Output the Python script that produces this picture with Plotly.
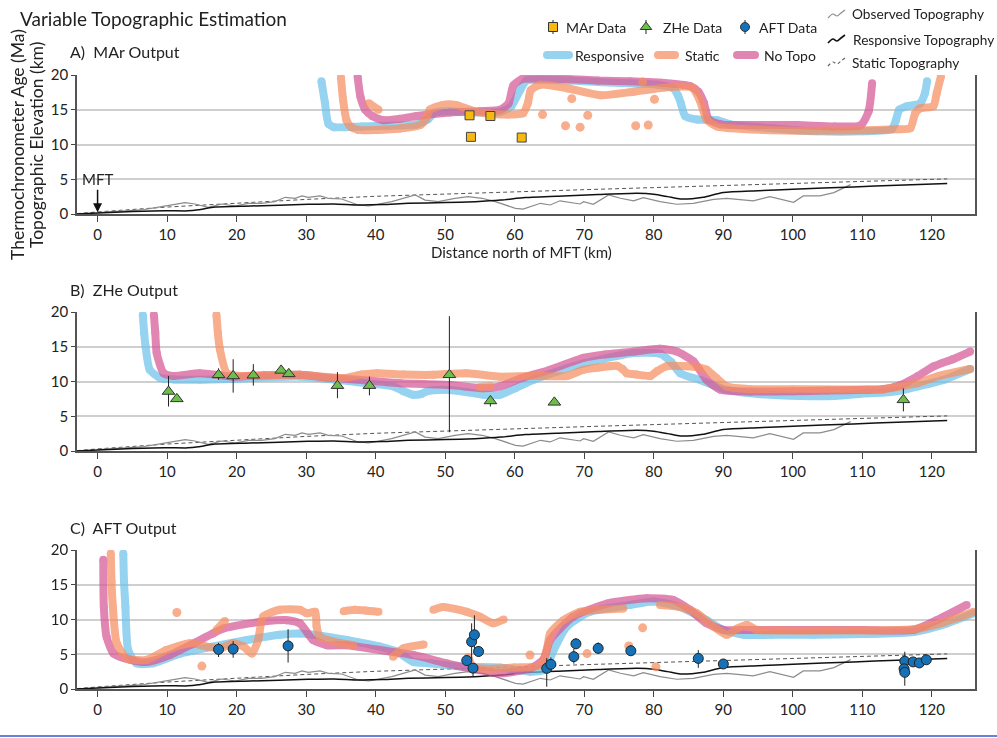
import plotly.graph_objects as go

W, H = 997, 738
FONT = "Lato"

# ---------------- topography (shared by all panels) ----------------
obs_topo_x = [0, 3, 6.3, 9.2, 11.1, 12.6, 14, 15.9, 17.9, 19.8, 21.7, 23.6, 25.5, 27, 28.4, 29.4, 30.3, 32, 33.2,
              35.1, 37.5, 39, 42.3, 45.7, 47.1, 49, 51.4, 53.3, 55.3, 57.2, 60.1, 61.2, 63.7, 65.1, 66.5, 68, 69.4,
              69.9, 71.3, 73.5, 75.2, 77.1, 78.5, 80.9, 83.3, 85.7, 88.6, 90.5, 94.3, 96.7, 100.1, 101.5, 103.9,
              105.9, 107.3, 108.3]
obs_topo_y = [0.2, 0.35, 0.58, 1.06, 1.4, 1.63, 1.44, 0.96, 1.44, 1.15, 1.54, 1.54, 1.78, 2.4, 2.26, 2.6, 2.4, 2.6,
              2.26, 2.16, 1.3, 1.15, 1.78, 2.74, 2.0, 1.78, 2.26, 2.5, 2.26, 1.78, 0.82, 0.7, 1.54, 1.3, 1.9, 1.68,
              1.44, 1.78, 1.4, 2.74, 2.26, 1.9, 2.36, 1.78, 1.4, 1.54, 2.1, 2.26, 1.9, 2.5, 1.68, 2.6, 2.6, 3.08,
              3.7, 4.23]
resp_topo_x = [-3, 0, 5, 9.7, 13, 14.5, 16.9, 22, 30.3, 34, 37.5, 41, 44.7, 50, 54.3, 58, 61.5, 67, 72, 77.6, 80,
               82, 83.8, 85.5, 87.1, 90, 95, 100, 108.7, 115, 122.2]
resp_topo_y = [0.0, 0.15, 0.35, 0.48, 0.45, 0.6, 1.0, 1.15, 1.39, 1.45, 1.3, 1.35, 1.54, 1.65, 1.78, 2.0, 2.36, 2.6,
               2.8, 2.98, 2.85, 2.5, 2.16, 2.2, 2.4, 3.1, 3.35, 3.55, 3.9, 4.15, 4.4]
static_topo_x = [-3, 0, 10, 20, 30, 40, 50, 60, 70, 80, 90, 100, 110, 122.2]
static_topo_y = [0.05, 0.3, 1.0, 1.6, 2.1, 2.55, 2.9, 3.2, 3.5, 3.8, 4.1, 4.4, 4.7, 5.05]

# ---------------- Panel A: MAr ----------------
A_resp_x = [32.2, 32.7, 33.2, 34.0, 38, 42, 45.9, 47.5, 48.5, 50.5, 54, 57.9, 59.5, 60.8, 61.7, 63.5, 68, 72, 76.6,
            80.5, 82.8, 83.5, 83.9, 84.5, 86.2, 89.1, 91.0, 95, 100, 103.5, 110, 114.2, 114.8, 115.3, 116.4, 118.3,
            119.0, 119.3]
A_resp_y = [19.1, 16.0, 13.0, 12.5, 12.6, 12.7, 12.9, 13.6, 14.6, 14.8, 14.6, 14.7, 15.5, 17.9, 19.2, 19.3, 19.2,
            19.0, 18.8, 18.6, 18.1, 17.0, 15.9, 14.1, 13.6, 13.5, 12.9, 12.5, 12.1, 11.9, 11.9, 12.2, 13.4, 15.0,
            15.5, 15.9, 17.4, 19.1]
A_notopo_x = [37.4, 37.8, 38.5, 39.5, 41.1, 43.5, 45.9, 50.7, 55, 57.9, 59.1, 59.8, 61.0, 63, 68, 72, 76.6, 81,
              85.2, 86.4, 87.2, 87.9, 89.6, 95, 100.6, 106, 109.8, 110.9, 111.4]
A_notopo_y = [19.8, 16.9, 15.0, 14.1, 13.5, 13.7, 14.1, 14.6, 14.8, 15.0, 15.9, 18.5, 19.4, 19.5, 19.4, 19.2, 19.1,
              18.9, 18.4, 17.6, 16.0, 13.6, 12.9, 12.8, 12.8, 12.6, 12.8, 14.8, 18.8]
A_static_x = [35.0, 35.3, 35.8, 36.5, 37.5, 40, 43.5, 46.4, 47.3, 47.8, 49.7, 51.5, 54.5, 58.9, 61.2, 61.9, 62.3,
              63.7, 67.5, 72.3, 77.1, 82.8, 85.5, 86.6, 87.6, 89.1, 95.8, 105, 115, 116.9, 117.6, 118.3, 120.2,
              120.7, 121.3, None, 39.0, 40.4]
A_static_y = [19.7, 16.5, 13.5, 12.5, 12.1, 12.1, 12.3, 12.8, 13.8, 15.0, 15.7, 15.7, 14.7, 14.3, 14.5, 16.0, 17.8,
              18.6, 18.1, 17.1, 17.6, 18.3, 18.2, 16.4, 13.6, 12.6, 12.1, 12.0, 12.2, 12.35, 14.5, 15.2, 15.5, 17.4,
              19.8, None, 15.95, 15.0]
A_static_pts_x = [64.0, 68.2, 67.3, 69.4, 70.5, 77.4, 79.2, 80.1, 78.4]
A_static_pts_y = [14.3, 16.6, 12.7, 12.5, 14.2, 12.7, 12.8, 16.5, 19.0]
mar_x = [53.5, 56.5, 53.7, 61.0]
mar_y = [14.2, 14.1, 11.1, 11.0]
mar_err = [0.3, 0.3, 0.3, 0.3]

# ---------------- Panel B: ZHe ----------------
B_resp_x = [6.5, 6.7, 6.9, 7.5, 9.0, 11, 14.7, 20, 25, 29.1, 34, 38.7, 42.5, 44, 45.4, 46.5, 47.3, 49.7, 53, 55.5,
            57.9, 60, 62.7, 66, 69.9, 73, 77.1, 80.9, 82.5, 83.8, 86.7, 90.5, 95, 101.1, 106, 110.7, 113, 115.5,
            117.9, 121.7, 125.5]
B_resp_y = [19.6, 17.0, 15.05, 11.7, 10.5, 10.3, 10.24, 10.4, 10.6, 10.7, 10.3, 9.76, 9.3, 8.6, 8.1, 8.2, 8.56,
            8.8, 8.5, 8.1, 8.1, 9.0, 10.24, 11.4, 12.6, 13.3, 14.1, 14.0, 12.8, 11.2, 10.2, 8.8, 8.2, 7.9, 7.9,
            8.3, 8.4, 8.7, 9.28, 10.24, 11.8]
B_notopo_x = [8.1, 8.3, 8.5, 9.5, 10.9, 14.7, 19.5, 24, 29.1, 33.9, 38, 43.5, 50.7, 55.5, 57.9, 61, 65.1, 69.9, 73,
              77.1, 80.9, 83.3, 85.7, 87.6, 89.6, 93.9, 100, 105, 110.7, 113, 115.5, 118, 120.3, 123, 125.5]
B_notopo_y = [19.6, 17, 14.1, 11.2, 10.8, 11.2, 10.7, 10.9, 10.96, 10.5, 10.2, 9.76, 9.5, 9.04, 9.3, 10.5, 11.7,
              13.4, 13.9, 14.3, 14.7, 14.3, 12.9, 10.24, 8.8, 8.56, 8.6, 8.7, 8.8, 8.9, 9.5, 10.8, 12.2, 13.2, 14.3]
B_static_x = [17.1, 17.3, 17.6, 18.6, 20.5, 25, 29.1, 35.4, 38, 40.2, 44, 48.3, 53.1, 57.9, 62, 67.5, 69.9, 72,
              74.7, 75.5, 76.1, 77.5, 79.5, 80.5, 81.9, 84.8, 86.5, 87.6, 89, 90.5, 93.9, 100, 113, 115, 117.9, 121,
              125.5, None, 55.0, 56.5]
B_static_y = [19.6, 17.0, 14.6, 11.2, 10.8, 10.9, 10.96, 10.5, 11.0, 11.2, 11.0, 10.96, 11.2, 10.7, 10.8, 10.8,
              11.7, 12.0, 12.26, 11.8, 11.2, 11.0, 10.8, 11.5, 12.2, 12.2, 12.0, 11.7, 10.5, 9.28, 8.9, 8.9, 8.9,
              9.2, 9.76, 10.8, 11.8, None, 9.2, 9.3]
zhe_x = [10.2, 11.4, 17.4, 19.5, 22.4, 26.4, 27.5, 34.5, 39.1, 50.6, 56.5, 65.7, 115.9]
zhe_y = [8.56, 7.5, 10.96, 10.8, 10.9, 11.6, 11.1, 9.4, 9.4, 10.96, 7.2, 7.0, 7.36]
zhe_err_plus = [2.24, 0, 0.94, 2.4, 1.6, 0, 0, 1.95, 1.3, 8.44, 0.6, 0, 1.64]
zhe_err_minus = [2.16, 0, 0.72, 2.4, 1.5, 0, 0, 1.8, 1.4, 8.26, 0.8, 0, 1.66]

# ---------------- Panel C: AFT ----------------
C_resp_x = [3.7, 3.8, 4.0, 4.4, 5.6, 8.0, 11.9, 16.6, 21.5, 26.2, 29.1, 31, 35.8, 40.6, 43, 45.4, 47.8, 52.6, 57.9,
            62.2, 64.0, 64.6, 65.6, 67.5, 70.8, 76.6, 80, 83.8, 87.6, 90, 92.9, 97, 103, 110, 117.4, 122.2, 126]
C_resp_y = [19.5, 15.5, 11.8, 5.6, 3.7, 3.7, 5.1, 6.1, 7.05, 7.8, 8.0, 7.8, 7.05, 6.1, 5.4, 3.9, 3.7, 3.2, 3.1, 2.5,
            2.7, 3.2, 5.6, 9.0, 11.1, 12.1, 12.6, 11.8, 9.9, 8.5, 7.8, 7.8, 7.8, 7.9, 8.2, 9.45, 10.9]
C_notopo_x = [0.82, 0.9, 1.3, 2.3, 4.7, 7.1, 10.4, 13.5, 16.6, 18.1, 21, 23.8, 27.2, 29.1, 31, 33, 35.8, 40.6, 45.4,
              50.2, 53.6, 57.9, 62.2, 64.1, 65.1, 68.4, 73.3, 79, 82.8, 85.2, 87.6, 90, 93.4, 100, 110, 117.4, 120.7,
              125]
C_notopo_y = [18.6, 11.8, 7.5, 5.1, 4.2, 3.9, 4.9, 6.4, 8.0, 8.7, 9.3, 9.7, 9.9, 9.45, 7.05, 6.3, 6.3, 5.6, 4.9,
              3.7, 2.97, 2.26, 2.97, 4.2, 7.05, 10.4, 12.3, 13.05, 12.8, 11.4, 9.45, 8.5, 8.5, 8.5, 8.5, 8.5, 9.9,
              12.1]
C_static_x = [1.9, 2.0, 2.2, 2.75, 4.2, 7.1, 9.9, 13.3, 15.7, 17.6, 19.5, 21, 22.2, 23.1, 23.8, 26.2, 29.1, 30.1,
              31.3, 31.5, 32, 34.9, 36.8,
              None, 17.1, 18.3,
              None, 35.4, 37, 38.5, 40.4,
              None, 42.5, 44, 46.9,
              None, 48.3, 49.7, 53.1, 55, 56.9, 58.4,
              None, 53.3, 54, 56, 60, 63.7, 64.6, 65.1, 67, 69.4, 72, 75.6,
              None, 80.9, 83.8, 86.2, 88.6, 90.5, 92, 93.4, 94.8, 98, 105, 117.4, 121.2, 126]
C_static_y = [19.5, 15.5, 11.8, 6.6, 4.4, 4.2, 5.6, 6.6, 6.1, 5.85, 6.6, 6.1, 5.1, 7.05, 10.4, 11.4, 11.4, 10.9,
              11.1, 9.0, 7.5, 6.6, 6.3,
              None, 8.5, 9.8,
              None, 11.2, 11.4, 11.3, 11.1,
              None, 4.65, 5.85, 6.4,
              None, 11.4, 11.8, 11.1, 10.4, 9.45, 10.0,
              None, 4.6, 3.2, 2.9, 3.1, 3.4, 5.6, 8.0, 9.9, 11.1, 11.4, 11.6,
              None, 12.1, 11.8, 10.9, 9.0, 7.8, 8.7, 9.2, 8.5, 8.4, 8.4, 8.6, 9.45, 11.1]
C_static_pts_x = [11.4, 15.0, 62.2, 70.4, 76.4, 78.4, 80.3]
C_static_pts_y = [11.0, 3.3, 4.9, 5.1, 6.2, 8.8, 3.2]
aft_x = [17.4, 19.5, 27.4, 53.1, 53.8, 54.2, 54.0, 54.8, 64.6, 65.2, 68.5, 68.8, 72.0, 76.7, 86.4, 90.0, 116.1,
         116.0, 116.1, 117.3, 118.2, 119.2]
aft_y = [5.7, 5.75, 6.2, 4.1, 6.8, 7.8, 3.0, 5.4, 2.97, 3.55, 4.65, 6.5, 5.85, 5.5, 4.4, 3.6, 4.0, 2.9, 2.4, 3.9,
         3.75, 4.2]
aft_err_plus = [0.95, 1.15, 2.4, 0.7, 2.65, 2.8, 0.3, 0.8, 1.45, 1.0, 1.1, 0.8, 0.85, 0.8, 1.2, 0.3, 1.37, 0.3,
                0.3, 0.3, 0.3, 0.6]
aft_err_minus = [1.1, 1.25, 2.4, 0.7, 2.7, 2.8, 1.2, 0.75, 2.64, 1.0, 1.0, 0.7, 0.8, 0.6, 1.35, 0.3, 1.2, 0.3,
                 1.93, 0.3, 0.3, 0.5]

# ---------------- styles ----------------
C_BLUE = "rgb(110,195,236)"
C_ORANGE = "rgb(246,142,96)"
C_PINK = "rgb(214,88,150)"
LW = 8
OP = 0.72

PLOT_X = (77, 975)
PANELS_PX = [(75, 214), (312, 451), (550, 689)]

fig = go.Figure()


def px2x(p):
    return p / W


def px2y(p):
    return 1 - p / H


def add_topo(s):
    xa, ya = "x" + s, "y" + s
    fig.add_trace(go.Scatter(x=static_topo_x, y=static_topo_y, mode="lines", xaxis=xa, yaxis=ya,
                             line=dict(color="#555", width=1, dash="4px,3px"), hoverinfo="skip"))
    fig.add_trace(go.Scatter(x=obs_topo_x, y=obs_topo_y, mode="lines", xaxis=xa, yaxis=ya,
                             line=dict(color="#8c8c8c", width=1.2), hoverinfo="skip"))
    fig.add_trace(go.Scatter(x=resp_topo_x, y=resp_topo_y, mode="lines", xaxis=xa, yaxis=ya,
                             line=dict(color="#111", width=1.5, shape="spline", smoothing=0.6), hoverinfo="skip"))


def add_model(s, x, y, color):
    fig.add_trace(go.Scatter(x=x, y=y, mode="lines+markers", xaxis="x" + s, yaxis="y" + s, opacity=OP,
                             connectgaps=False,
                             line=dict(color=color, width=LW, shape="spline", smoothing=0.6),
                             marker=dict(color=color, size=LW, line=dict(width=0)), hoverinfo="skip"))


def add_pts(s, x, y, color):
    fig.add_trace(go.Scatter(x=x, y=y, mode="markers", xaxis="x" + s, yaxis="y" + s, opacity=OP,
                             marker=dict(color=color, size=9, line=dict(width=0)), hoverinfo="skip"))


for s in ["", "2", "3"]:
    add_topo(s)

add_model("", A_resp_x, A_resp_y, C_BLUE)
add_model("", A_notopo_x, A_notopo_y, C_PINK)
add_model("", A_static_x, A_static_y, C_ORANGE)
add_pts("", A_static_pts_x, A_static_pts_y, C_ORANGE)
fig.add_trace(go.Scatter(x=mar_x, y=mar_y, mode="markers", xaxis="x", yaxis="y",
                         error_y=dict(type="data", array=mar_err, color="#222", thickness=1, width=0),
                         marker=dict(symbol="square", color="#F6B90F", size=9, line=dict(color="#444", width=1))))

add_model("2", B_resp_x, B_resp_y, C_BLUE)
add_model("2", B_notopo_x, B_notopo_y, C_PINK)
add_model("2", B_static_x, B_static_y, C_ORANGE)
fig.add_trace(go.Scatter(x=zhe_x, y=zhe_y, mode="markers", xaxis="x2", yaxis="y2",
                         error_y=dict(type="data", symmetric=False, array=zhe_err_plus, arrayminus=zhe_err_minus,
                                      color="#222", thickness=1, width=0),
                         marker=dict(symbol="triangle-up", color="#6CBF4B", size=11,
                                     line=dict(color="#333", width=1))))

add_model("3", C_resp_x, C_resp_y, C_BLUE)
add_model("3", C_notopo_x, C_notopo_y, C_PINK)
add_model("3", C_static_x, C_static_y, C_ORANGE)
add_pts("3", C_static_pts_x, C_static_pts_y, C_ORANGE)
fig.add_trace(go.Scatter(x=aft_x, y=aft_y, mode="markers", xaxis="x3", yaxis="y3",
                         error_y=dict(type="data", symmetric=False, array=aft_err_plus, arrayminus=aft_err_minus,
                                      color="#222", thickness=1, width=0),
                         marker=dict(symbol="circle", color="#1572B8", size=10, line=dict(color="#222", width=1))))

# ---------------- legend (pixel overlay axis) ----------------
leg_marker_x = [553, 646, 745]
leg_marker_y = [27, 27, 27]
leg_symbols = ["square", "triangle-up", "circle"]
leg_fill = ["#F6B90F", "#6CBF4B", "#1572B8"]
leg_sizes = [9, 10, 9]
for i in range(3):
    fig.add_trace(go.Scatter(x=[leg_marker_x[i]], y=[leg_marker_y[i]], mode="markers", xaxis="x4", yaxis="y4",
                             error_y=dict(type="data", array=[7], color="#222", thickness=1, width=0),
                             marker=dict(symbol=leg_symbols[i], color=leg_fill[i], size=leg_sizes[i],
                                         line=dict(color="#333", width=1))))
leg_lines = [(547, 569, C_BLUE), (658, 675, C_ORANGE), (737, 755, C_PINK)]
for x0, x1, c in leg_lines:
    fig.add_trace(go.Scatter(x=[x0, x1], y=[55, 55], mode="lines+markers", xaxis="x4", yaxis="y4", opacity=OP,
                             line=dict(color=c, width=LW), marker=dict(color=c, size=LW)))
# zigzag icons
zig_dx = [0, 5, 9, 13, 17]
zig_dy = [4, 0, 2, -1, -4]
for yc, col, dash, w in [(14, "#8c8c8c", "solid", 1.2), (39, "#111", "solid", 1.6), (62, "#666", "dot", 1.2)]:
    fig.add_trace(go.Scatter(x=[828 + d for d in zig_dx], y=[yc + d for d in zig_dy], mode="lines",
                             xaxis="x4", yaxis="y4", line=dict(color=col, width=w, dash=dash, shape="spline")))

fig.update_traces(showlegend=False)

layout = dict(width=W, height=H, margin=dict(l=0, r=0, t=0, b=0), paper_bgcolor="white",
              plot_bgcolor="rgba(0,0,0,0)",
              font=dict(family=FONT, color="#222", size=14), showlegend=False)

for i, s in enumerate(["", "2", "3"]):
    top, bot = PANELS_PX[i]
    layout["xaxis" + s] = dict(domain=[px2x(PLOT_X[0]), px2x(PLOT_X[1])], range=[-2.96, 126.2],
                               anchor="y" + s, showline=True, linecolor="#555", linewidth=1.5,
                               ticks="outside", ticklen=6, tickwidth=1.2, tickcolor="#444",
                               tickvals=list(range(0, 121, 10)), showgrid=False, zeroline=False,
                               tickfont=dict(size=15, color="#222"), automargin=False, fixedrange=True)
    layout["yaxis" + s] = dict(domain=[px2y(bot), px2y(top)], range=[0, 20], anchor="x" + s,
                               showline=True, mirror=True, linecolor="#555", linewidth=1.5,
                               ticks="outside", ticklen=4, tickwidth=1.2, tickcolor="#444",
                               tickvals=[0, 5, 10, 15, 20], showgrid=True, gridcolor="#cfcfcf", gridwidth=1.5,
                               zeroline=False, tickfont=dict(size=15, color="#222"), automargin=False,
                               fixedrange=True)
layout["xaxis4"] = dict(domain=[0, 1], range=[0, W], anchor="y4", visible=False, fixedrange=True)
layout["yaxis4"] = dict(domain=[0, 1], range=[H, 0], anchor="x4", visible=False, fixedrange=True)

annotations = []


def txt(x, y, t, size=14, xanchor="left", **kw):
    annotations.append(dict(x=px2x(x), y=px2y(y), xref="paper", yref="paper", text=t, showarrow=False,
                            xanchor=xanchor, yanchor="middle", font=dict(size=size, family=FONT, color="#222"),
                            **kw))


txt(18, 18, "Variable Topographic Estimation", size=19)
txt(68, 52, "A)  MAr Output", size=16)
txt(68, 289, "B)  ZHe Output", size=16)
txt(68, 527, "C)  AFT Output", size=16)
txt(521, 252, "Distance north of MFT (km)", size=15, xanchor="center")
txt(17, 145, "Thermochronometer Age (Ma)", size=17.5, xanchor="center", textangle=-90)
txt(36, 145, "Topographic Elevation (km)", size=17.5, xanchor="center", textangle=-90)
txt(564, 27, "MAr Data")
txt(661, 27, "ZHe Data")
txt(757, 27, "AFT Data")
txt(573, 55, "Responsive")
txt(683, 55, "Static")
txt(762, 55, "No Topo")
txt(850, 14, "Observed Topography", size=13.7)
txt(851, 39, "Responsive Topography", size=13.7)
txt(850, 62, "Static Topography", size=13.7)

annotations.append(dict(x=0, y=0.25, xref="x", yref="y", text="MFT", showarrow=True, arrowhead=2, arrowsize=1.2,
                        arrowwidth=1.5, arrowcolor="#111", ax=0, ay=-33, font=dict(size=15, family=FONT,
                                                                                   color="#222")))
layout["annotations"] = annotations
layout["shapes"] = [dict(type="line", xref="paper", yref="paper", x0=0, x1=1, y0=px2y(736), y1=px2y(736),
                         line=dict(color="rgb(50,90,200)", width=1.5))]

fig.update_layout(**layout)
fig.write_html("out.html")
